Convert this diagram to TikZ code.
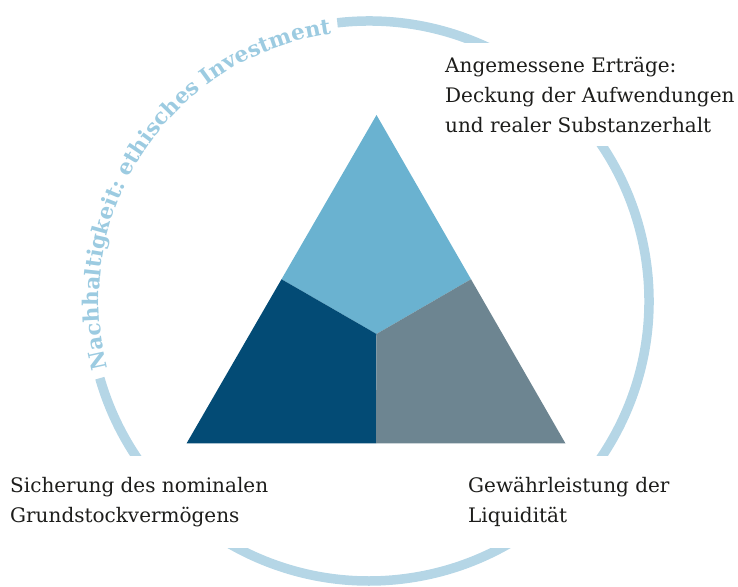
\documentclass[tikz,border=0pt]{standalone}
\usepackage{fontspec}
\setmainfont{DejaVu Serif}
\usepackage{xcolor}
\usetikzlibrary{calc, decorations.text, positioning}

\definecolor{ringblue}{HTML}{B5D6E6}
\definecolor{ringtext}{HTML}{9CCBE1}
\definecolor{topblue}{HTML}{6AB2D0}
\definecolor{darkblue}{HTML}{034B75}
\definecolor{slategray}{HTML}{6D8591}
\definecolor{labeltext}{HTML}{1D1D1B}

\begin{document}
\begin{tikzpicture}[x=1pt, y=1pt,
    ring/.style={draw=ringblue, line width=9.5pt},
    goal/.style={fill=white, align=left, anchor=north west, text=labeltext,
        font=\fontsize{20}{30}\selectfont, inner xsep=4pt}
]
\useasboundingbox (0,0) rectangle (738,586);
\coordinate (c) at (369,285);

% corners of the triangle
\coordinate (apex) at (376.5,471);
\coordinate (bl) at (186.5,142.5);
\coordinate (br) at (565.5,142.5);
\coordinate (mid) at (376.5,252);
\coordinate (ml) at ($(apex)!0.5!(bl)$);
\coordinate (mr) at ($(apex)!0.5!(br)$);
\coordinate (mb) at ($(bl)!0.5!(br)$);

\fill[topblue] (apex) -- (mr) -- (mid) -- (ml) -- cycle;
\fill[darkblue] (ml) -- (mid) -- (mb) -- (bl) -- cycle;
\fill[slategray] (mr) -- (br) -- (mb) -- (mid) -- cycle;

% ring, open at the top left for the text
\draw[ring] ($(c)+(96.5:280)$) arc (96.5:-164:280);
\path[decorate, decoration={text along path, text align=left,
    text={|\fontsize{21.6}{22}\bfseries\color{ringtext}|Nachhaltigkeit: ethisches Investment}}]
    ($(c)+(194.5:270)$) arc (194.5:88:270);

% the three goals
\node[goal, inner ysep=13.5pt] (yield) at (441,543)
    {Angemessene Erträge:\\Deckung der Aufwendungen\\und realer Substanzerhalt};
\node[goal, inner ysep=21pt] (capital) at (6,130)
    {Sicherung des nominalen\\Grundstockvermögens};
\node[goal, inner ysep=21pt] (liquidity) at (464,130)
    {Gewährleistung der\\Liquidität};
\end{tikzpicture}
\end{document}
